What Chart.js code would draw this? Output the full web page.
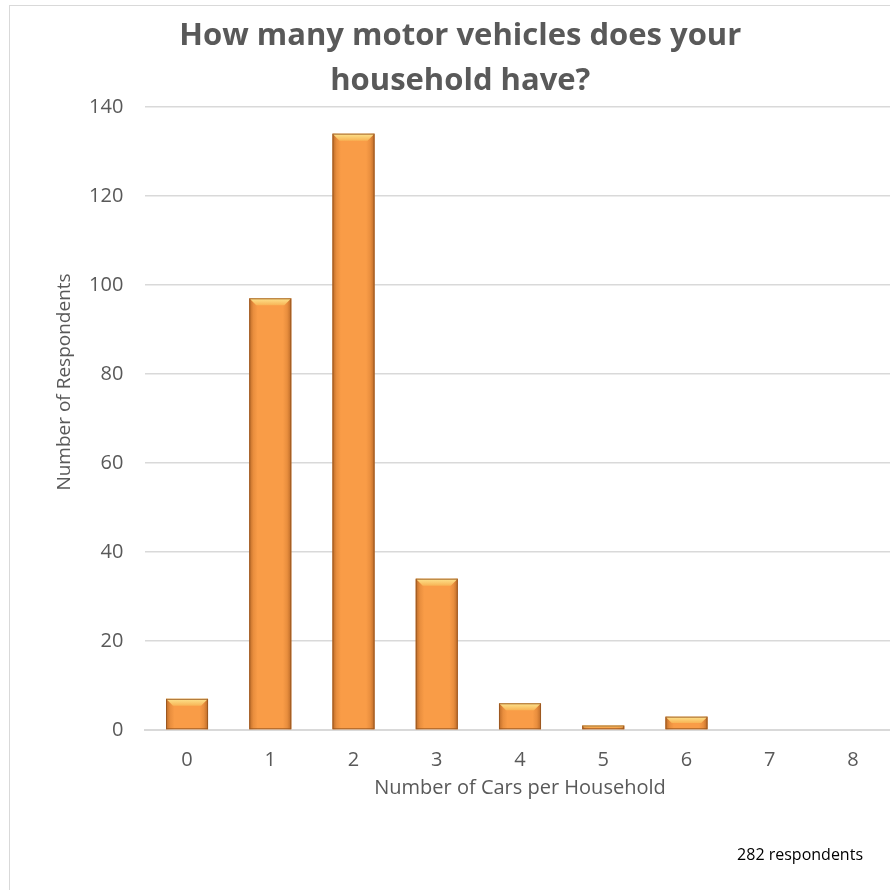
<!DOCTYPE html>
<html>
<head>
<meta charset="utf-8">
<script src="https://cdn.jsdelivr.net/npm/chart.js@4.4.0/dist/chart.umd.min.js"></script>
<style>
  html, body { margin: 0; padding: 0; background: #fff; overflow: hidden; }
  .frame {
    position: absolute;
    left: 9px;
    top: 5px;
    width: 904px;
    height: 900px;
    border: 1px solid #d9d9d9;
  }
  canvas { display: block; }
</style>
</head>
<body>
<div class="frame">
  <canvas id="myChart" width="904" height="900"></canvas>
</div>
<script>
const chartTitle = ["How many motor vehicles does your", "household have?"];
const categories = ["0", "1", "2", "3", "4", "5", "6", "7", "8"];
const respondents = [7, 97, 134, 34, 6, 1, 3, 0, 0];
const yMax = 140;
const yStep = 20;
const xAxisTitle = "Number of Cars per Household";
const yAxisTitle = "Number of Respondents";
const note = "282 respondents";

const textColor = "#595959";
const gridColor = "#d9d9d9";
const bodyFont = "'Open Sans', sans-serif";

// draws the y axis title and the respondents note
const extraText = {
  id: "extraText",
  afterDraw(chart) {
    const ctx = chart.ctx;
    ctx.save();
    ctx.fillStyle = textColor;
    ctx.font = "19px " + bodyFont;
    ctx.textAlign = "center";
    ctx.textBaseline = "middle";
    ctx.translate(55, 376);
    ctx.rotate(-Math.PI / 2);
    ctx.fillText(yAxisTitle, 0, 0);
    ctx.restore();

    ctx.save();
    ctx.fillStyle = "#000";
    ctx.font = "16px " + bodyFont;
    ctx.textAlign = "right";
    ctx.textBaseline = "middle";
    ctx.fillText(note, 853, 849);
    ctx.restore();
  },
};

// bevel look on each bar, using the bar geometry from the library
const bevel = {
  id: "bevel",
  afterDatasetsDraw(chart) {
    const ctx = chart.ctx;
    chart.getDatasetMeta(0).data.forEach((bar) => {
      const { x, y, base, width } = bar.getProps(["x", "y", "base", "width"], true);
      const h = base - y;
      if (h <= 0.5) return;
      const left = x - width / 2;
      const right = x + width / 2;
      const b = Math.min(7, h / 2);

      ctx.save();
      const side = ctx.createLinearGradient(left, 0, right, 0);
      side.addColorStop(0, "rgba(140,70,20,0.6)");
      side.addColorStop(0.1, "rgba(160,80,20,0.18)");
      side.addColorStop(0.2, "rgba(160,80,20,0)");
      side.addColorStop(0.8, "rgba(160,80,20,0)");
      side.addColorStop(0.9, "rgba(160,80,20,0.18)");
      side.addColorStop(1, "rgba(140,70,20,0.6)");
      ctx.fillStyle = side;
      ctx.fillRect(left, y, width, h);

      const top = ctx.createLinearGradient(0, y, 0, y + b);
      top.addColorStop(0, "#fde58f");
      top.addColorStop(1, "#f8b455");
      ctx.beginPath();
      ctx.moveTo(left, y);
      ctx.lineTo(right, y);
      ctx.lineTo(right - b, y + b);
      ctx.lineTo(left + b, y + b);
      ctx.closePath();
      ctx.fillStyle = top;
      ctx.fill();

      ctx.strokeStyle = "rgba(150,85,30,0.85)";
      ctx.lineWidth = 1;
      ctx.strokeRect(left + 0.5, y + 0.5, width - 1, h - 1);
      ctx.restore();
    });
  },
};

const ctx = document.querySelector("#myChart");

new Chart(ctx, {
  type: "bar",
  data: {
    labels: categories,
    datasets: [
      {
        label: "Respondents",
        data: respondents,
        backgroundColor: "#f99c47",
        borderWidth: 0,
        barPercentage: 0.505,
        categoryPercentage: 1,
      },
    ],
  },
  options: {
    responsive: false,
    animation: false,
    events: [],
    layout: {
      padding: { left: 16, right: 19.4, top: 0, bottom: 96 },
    },
    plugins: {
      legend: { display: false },
      tooltip: { enabled: false },
      title: {
        display: true,
        text: chartTitle,
        color: textColor,
        font: { family: bodyFont, size: 31, weight: "bold", lineHeight: 1.45 },
        padding: { top: 8, bottom: 3.05 },
      },
    },
    scales: {
      x: {
        grid: { display: false, drawTicks: false },
        border: { display: true, color: gridColor, width: 2 },
        ticks: {
          color: textColor,
          font: { family: bodyFont, size: 20 },
          padding: 18,
        },
        title: {
          display: true,
          text: xAxisTitle,
          color: textColor,
          font: { family: bodyFont, size: 20, lineHeight: 1.2 },
          padding: { top: 0, bottom: 10 },
        },
        afterFit(scale) {
          scale.height = 80;
        },
      },
      y: {
        min: 0,
        max: yMax,
        ticks: {
          stepSize: yStep,
          color: textColor,
          font: { family: bodyFont, size: 20 },
          padding: 22,
        },
        grid: { color: gridColor, lineWidth: 1.5, drawTicks: false },
        border: { display: false },
        afterFit(scale) {
          scale.width = 119.4;
        },
      },
    },
  },
  plugins: [bevel, extraText],
});
</script>
</body>
</html>
